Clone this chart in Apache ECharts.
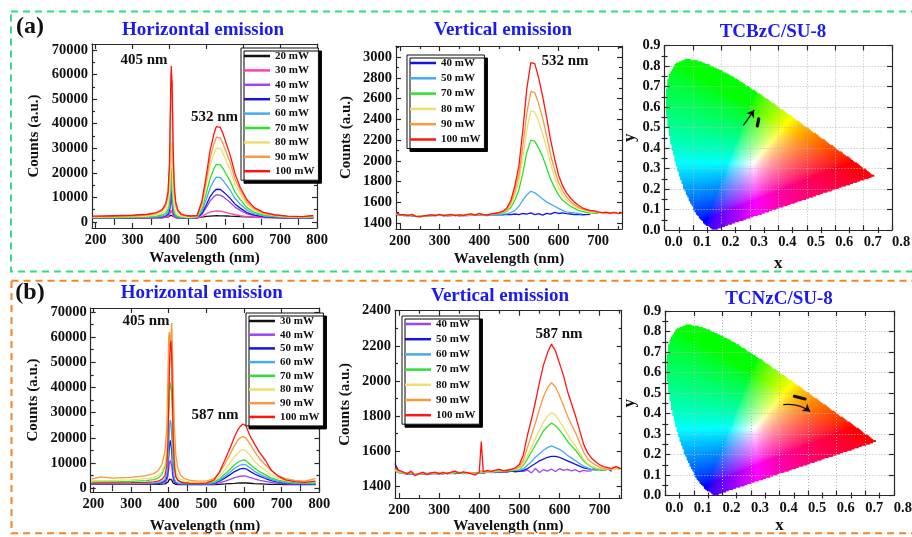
<!DOCTYPE html>
<html><head><meta charset="utf-8">
<script src="https://cdn.jsdelivr.net/npm/echarts@6/dist/echarts.min.js"></script>
<style>html,body{margin:0;padding:0;background:#fff}#c{width:912px;height:537px}</style>
</head><body><div id="c"></div>
<script>
// ================= DATA =================
// Tick label values
const wlTicks = [200, 300, 400, 500, 600, 700, 800];
const wlMinor = [250, 350, 450, 550, 650, 750];
const cnt70kTicks = [0, 10000, 20000, 30000, 40000, 50000, 60000, 70000];
const cnt70kMinor = [5000, 15000, 25000, 35000, 45000, 55000, 65000];
const cntA2Ticks = [1400, 1600, 1800, 2000, 2200, 2400, 2600, 2800, 3000];
const cntA2Minor = [1500, 1700, 1900, 2100, 2300, 2500, 2700, 2900, 3100];
const cntB2Ticks = [1400, 1600, 1800, 2000, 2200, 2400];
const cntB2Minor = [1500, 1700, 1900, 2100, 2300];
const cieXTicks = [0, 0.1, 0.2, 0.3, 0.4, 0.5, 0.6, 0.7, 0.8];
const cieXMinor = [0.05, 0.15, 0.25, 0.35, 0.45, 0.55, 0.65, 0.75];
const cieYTicks = [0, 0.1, 0.2, 0.3, 0.4, 0.5, 0.6, 0.7, 0.8, 0.9];
const cieYMinor = [0.05, 0.15, 0.25, 0.35, 0.45, 0.55, 0.65, 0.75, 0.85];

// (a) Horizontal emission, TCBzC
const wlA1 = [192,220,250,300,340,365,380,390,396,400, 402,404,405,406,407,408,410,413,417,423, 432,445,460,475,488,500,510,520,527,532, 538,545,555,565,578,592,610,630,655,685, 720,760,790];
const a1_20 = [1700,1700,1700,1700,1700,1720,1750,1850,1950,2200, 2600,3000,3200,3100,2800,2400,2000,1800,1750,1700, 1700,1700,1700,1750,1950,2200,2350,2450,2500,2500, 2480,2450,2400,2300,2200,2100,2000,1900,1820,1780, 1750,1720,1700];
const a1_30 = [1500,1500,1500,1520,1540,1560,1600,1800,2000,2600, 3500,4800,5200,5000,4200,3300,2400,1900,1650,1550, 1500,1500,1500,1550,2100,3300,4000,4300,4500,4500, 4400,4200,3800,3400,2900,2500,2100,1850,1700,1600, 1550,1500,1500];
const a1_40 = [1500,1500,1520,1550,1600,1680,1800,2100,2600,3800, 6000,8500,9500,9000,7500,5500,3500,2300,1800,1600, 1550,1500,1500,1650,3000,5900,8500,10200,11000,11200, 10900,10300,9100,7900,6000,4700,3300,2500,2000,1750, 1580,1520,1550];
const a1_50 = [1550,1560,1580,1620,1700,1820,2000,2500,3200,5000, 8000,11500,13000,12000,10000,7500,4500,2800,2100,1800, 1650,1550,1550,1750,3450,7000,10200,12300,13300,13500, 13200,12400,11000,9500,7200,5600,3800,2800,2150,1850, 1650,1580,1600];
const a1_60 = [1600,1620,1650,1700,1800,1950,2200,2800,3800,6000, 10000,15000,17000,16000,13000,9500,5500,3200,2300,1900, 1700,1600,1600,1850,4300,9200,13700,16700,18200,18500, 18000,16900,14900,12800,9500,7200,4800,3300,2400,2000, 1750,1650,1700];
const a1_70 = [1700,1720,1760,1850,2000,2300,2800,3500,5000,8000, 13000,19000,22000,21000,18000,13000,7500,4000,2800,2200, 1900,1750,1700,2000,5200,11700,17600,21500,23400,23800, 23200,21800,19100,16400,12000,9100,5800,3900,2800,2200, 1900,1750,1900];
const a1_80 = [1800,1900,2000,2100,2400,2800,3500,4500,6500,11000, 18000,28000,32000,30000,26000,19000,11000,6000,3800,2800, 2200,1900,1800,2200,6400,14900,22600,27600,30100,30700, 29900,28000,24500,21000,15300,11400,7200,4700,3300,2500, 2000,1900,2100];
const a1_90 = [2000,2100,2200,2400,2800,3400,4500,6500,10000,20000, 35000,52000,58000,60500,57000,45000,25000,12000,6500,4000, 2800,2300,2200,2400,7500,16900,25800,31500,34500,35000, 34200,32000,28000,24000,17300,12900,8100,5300,3600,2700, 2200,2000,2400];
const a1_100 = [2300,2400,2500,2700,3100,3800,5000,7500,12000,24000, 42000,60000,63500,58000,57000,50000,30000,15000,8000,4800, 3200,2600,2400,2600,8500,19000,29000,35500,38800,39500, 38500,36000,31500,27000,19500,14000,9000,5800,3900,2900, 2300,2100,2600];

// (a) Vertical emission, TCBzC
const wlA2 = [190,200,210,220,230,240,250,260,270,280,290,300,310,320,330,340,350,360,370,380,390,400,410,420,430,440,450,460,470,480,490,500,510,520,530,540,550,560,570,580,590,600,610,620,630,640,650,660,670,680,690,700,710,720,730,740,750,760];
const a2_40 = [1480,1476,1470,1472,1468,1470,1466,1470,1468,1472, 1470,1474,1470,1472,1470,1474,1468,1472,1470,1474, 1472,1476,1474,1470,1478,1476,1480,1478,1482,1480, 1485,1478,1490,1484,1495,1480,1488,1475,1492,1484, 1500,1490,1496,1488,1485,1480,1482,1478,1480,1482, null,null,null,null,null,null,null,null];
const a2_50 = [1484,1476,1472,1470,1474,1470,1466,1468,1472,1470, 1474,1472,1476,1468,1472,1476,1470,1472,1474,1476, 1472,1478,1476,1474,1480,1482,1480,1484,1486,1500, 1520,1560,1620,1670,1705,1690,1660,1630,1600,1580, 1560,1540,1520,1505,1500,1495,1490,1485,null,null, null,null,null,null,null,null,null,null];
const a2_70 = [1486,1478,1474,1476,1470,1466,1462,1470,1470,1474, 1478,1476,1474,1470,1476,1474,1472,1474,1478,1480, 1476,1484,1480,1478,1484,1486,1492,1495,1510,1550, 1620,1720,1880,2080,2200,2190,2120,2040,1930,1820, 1740,1670,1620,1590,1560,1540,1520,1510,1500,1495, 1492,1488,null,null,null,null,null,null];
const a2_80 = [1490,1482,1476,1472,1478,1468,1464,1468,1474,1478, 1476,1480,1470,1474,1478,1472,1476,1470,1480,1478, 1482,1480,1478,1484,1480,1488,1496,1500,1520,1575, 1670,1800,2030,2300,2480,2470,2380,2260,2120,1970, 1840,1740,1670,1620,1590,1560,1540,1525,1515,1505, 1500,1498,1494,1490,null,null,null,null];
const a2_90 = [1488,1476,1482,1468,1475,1465,1460,1470,1468,1480, 1474,1478,1472,1470,1484,1466,1480,1472,1476,1482, 1478,1486,1476,1480,1482,1494,1500,1506,1530,1595, 1710,1865,2140,2460,2670,2660,2550,2410,2240,2060, 1910,1790,1710,1650,1610,1575,1550,1535,1520,1512, 1505,1500,1495,1498,1490,1497,1492,null];
const a2_100 = [1495,1480,1478,1470,1482,1462,1458,1466,1472,1476, 1470,1482,1468,1476,1480,1470,1477,1469,1481,1486, 1474,1492,1480,1476,1487,1490,1498,1512,1545,1620, 1760,1950,2300,2700,2950,2940,2800,2620,2420,2200, 2020,1860,1760,1690,1640,1600,1570,1545,1530,1520, 1515,1505,1498,1502,1494,1500,1490,1495];

// (b) Horizontal emission, TCNzC
const wlB1 = [195,220,250,300,340,360,372,382,390,395, 398,400,402,404,406,408,410,412,415,419, 425,432,442,455,475,500,520,535,550,563, 575,583,590,597,605,615,628,642,657,672, 690,710,735,760,790];
const b1_30 = [1500,1500,1500,1500,1520,1540,1560,1600,1700,1900, 2400,3000,3600,3900,3800,3300,2600,2000,1700,1550, 1450,1420,1400,1400,1400,1400,1450,1550,1700,1850, 1950,2020,2070,2100,2080,1980,1850,1750,1650,1560, 1500,1450,1420,1400,1400];
const b1_40 = [1600,1600,1600,1650,1700,1750,1800,1900,2200,3000, 4800,7500,10000,11000,10800,8800,5800,3500,2300,1800, 1600,1550,1500,1500,1500,1500,1650,2150,2850,3550, 4200,4550,4750,4900,4800,4300,3700,3150,2700,2300, 1950,1700,1580,1530,1500];
const b1_50 = [1700,1700,1700,1750,1800,1850,1950,2300,2900,4200, 7500,12500,17000,19000,18500,15000,9500,5200,3000,2100, 1800,1700,1650,1600,1600,1600,1900,2800,4100,5400, 6600,7200,7650,7900,7700,6800,5650,4700,3850,3050, 2400,2000,1750,1650,1600];
const b1_60 = [1800,1800,1800,1850,1900,2000,2200,2600,3500,5500, 10000,17000,24000,27000,26000,21000,13000,7000,3800,2500, 2000,1850,1750,1700,1700,1700,2100,3200,4800,6400, 7900,8600,9200,9500,9300,8200,6700,5500,4500,3500, 2700,2200,1900,1800,1750];
const b1_70 = [2500,2500,2550,2700,3000,3400,4000,5500,8500,12500, 20000,30000,38000,42000,42000,38000,28000,17000,8500,4500, 3200,2600,2300,2100,2000,2000,2450,3750,5700,7500, 9300,10200,10800,11200,10900,9600,7900,6500,5300,4100, 3200,2600,2250,2100,2100];
const b1_80 = [3000,3000,3100,3300,3800,4300,5000,6500,9500,15000, 25000,38000,48000,52000,53000,50000,40000,27000,14000,7000, 4500,3500,2900,2600,2400,2300,2950,4800,7500,10100, 12600,13900,14800,15300,14900,13100,10600,8700,7000,5300, 4000,3150,2650,2450,2600];
const b1_90 = [3600,4500,4000,4300,5000,5800,7000,9500,14500,24000, 45000,60000,62000,56000,60000,65500,55000,40000,25000,13000, 7500,5000,3800,3200,2800,2800,3800,6200,9800,13500, 17000,19000,20000,20500,20000,17800,14500,11500,9200,7000, 5000,3800,3100,2800,3800];
const b1_100 = [2000,2100,2100,2200,2300,2500,2800,3500,5000,9000, 18000,32000,48000,57000,58500,52000,36000,20000,9000,4500, 3000,2400,2100,1900,1800,2000,3200,6500,11500,16000, 20500,23000,24500,25500,24800,21000,17500,14000,11000,7200, 4800,3300,2600,2300,2800];

// (b) Vertical emission, TCNzC
const wlB2 = [190,200,210,220,230,240,250,260,270,280,290,300,310,320,330,340,350,360,370,380,390,400,405,410,420,430,440,450,460,470,480,490,500,510,520,530,540,550,560,570,580,590,600,610,620,630,640,650,660,670,680,690,700,710,720,730,740,750];
const b2_40 = [1486,1478,1476,1472,1474,1472,1470,1474,1472,1470, 1474,1472,1476,1474,1472,1478,1474,1476,1472,1476, 1474,1478,1480,1476,1482,1480,1478,1484,1482,1480, 1486,1482,1488,1484,1492,1476,1502,1478,1494,1486, 1498,1484,1500,1490,1496,1488,1494,1482,1490,1486, 1488,null,null,null,null,null,null,null];
const b2_50 = [1530,1480,1474,1470,1472,1470,1468,1472,1470,1474, 1472,1474,1470,1476,1474,1472,1476,1472,1478,1474, 1472,1476,1478,1474,1480,1478,1482,1480,1482,1484, 1486,1484,1485,1490,1500,1515,1530,1545,1555,1565, 1570,1570,1565,1555,1545,1535,1525,1515,1505,1500, 1495,1500,1495,1490,1500,1485,null,null];
const b2_60 = [1488,1476,1472,1478,1470,1472,1468,1470,1474,1472, 1476,1470,1476,1472,1474,1476,1480,1474,1476,1472, 1476,1478,1480,1478,1480,1482,1480,1484,1484,1486, 1488,1490,1490,1500,1520,1540,1565,1585,1605,1620, 1630,1620,1610,1595,1575,1560,1545,1530,1515,1505, 1495,1490,1494,null,null,null,null,null];
const b2_70 = [1490,1478,1474,1476,1476,1468,1466,1472,1470,1476, 1474,1476,1474,1476,1472,1478,1476,1478,1474,1478, 1474,1476,1480,1476,1482,1484,1484,1486,1486,1488, 1490,1494,1495,1520,1555,1595,1635,1675,1715,1740, 1760,1745,1720,1690,1655,1630,1605,1575,1545,1525, 1510,1500,1495,1490,1498,null,null,null];
const b2_80 = [1494,1480,1476,1474,1478,1470,1468,1476,1472,1474, 1478,1472,1476,1474,1474,1480,1478,1476,1476,1474, 1472,1478,1484,1478,1484,1480,1486,1488,1488,1490, 1494,1496,1500,1530,1575,1620,1670,1720,1765,1800, 1820,1805,1770,1735,1695,1660,1630,1590,1555,1530, 1515,1505,1500,1496,1500,1494,1498,1492];
const b2_90 = [1498,1484,1478,1476,1480,1466,1470,1474,1470,1478, 1476,1474,1480,1470,1478,1482,1476,1480,1474,1476, 1470,1482,1490,1480,1486,1482,1488,1492,1490,1494, 1498,1500,1510,1550,1620,1690,1760,1840,1910,1960, 1990,1965,1915,1860,1800,1750,1705,1650,1595,1555, 1535,1520,1508,1502,1495,1500,1508,1498];
const b2_100 = [1505,1490,1482,1470,1486,1460,1472,1480,1466,1476, 1480,1470,1478,1472,1480,1486,1474,1482,1478,1470, 1464,1480,1655,1482,1490,1485,1492,1496,1488,1490, 1496,1505,1524,1580,1690,1780,1880,1990,2090,2160, 2210,2170,2100,2030,1940,1870,1800,1720,1640,1590, 1560,1540,1522,1512,1506,1500,1512,1505];

// CIE 1931 spectral locus (x, y)
const cieLocus = [[0.1741,0.0050],[0.1738,0.0049],[0.1733,0.0048],[0.1726,0.0048],[0.1714,0.0051],[0.1689,0.0069],[0.1644,0.0109],[0.1566,0.0177],[0.1440,0.0297],[0.1241,0.0578],[0.1096,0.0868],[0.0913,0.1327],[0.0687,0.2007],[0.0454,0.2950],[0.0235,0.4127],[0.0082,0.5384],[0.0039,0.6548],[0.0139,0.7502],[0.0389,0.8120],[0.0743,0.8338],[0.1142,0.8262],[0.1547,0.8059],[0.1929,0.7816],[0.2296,0.7543],[0.2658,0.7243],[0.3016,0.6923],[0.3373,0.6589],[0.3731,0.6245],[0.4087,0.5896],[0.4441,0.5547],[0.4788,0.5202],[0.5125,0.4866],[0.5448,0.4544],[0.5752,0.4242],[0.6029,0.3965],[0.6270,0.3725],[0.6482,0.3514],[0.6658,0.3340],[0.6801,0.3197],[0.6915,0.3083],[0.7006,0.2993],[0.7079,0.2920],[0.7140,0.2859],[0.7190,0.2809],[0.7230,0.2770],[0.7260,0.2740],[0.7283,0.2717],[0.7300,0.2700],[0.7347,0.2653]];
// CIE coordinates of the emission (arrows / clusters)
const cieA_arrow = [[0.277,0.510],[0.315,0.585]];
const cieA_pts = [[0.326,0.508],[0.331,0.542]];
const cieB_pts = [[0.452,0.484],[0.489,0.471]];
const cieB_arrow = [[0.413,0.443],[0.507,0.410]];

// ================= STYLE / BUILD =================
const FONT = '"Liberation Serif","Times New Roman",serif';
const AX = '#2a2a2a';
const BLUE_T = '#1b1bf0';
const C = {k:'#111111', pink:'#ff40a8', purple:'#9d45f2', blue:'#1616d6', lblue:'#45aaf2', green:'#2de02d', yellow:'#eedd70', orange:'#f8993c', red:'#ff1414'};

const grids = [], xAxes = [], yAxes = [], series = [], legends = [];
const plainFmt = function (v) { return String(v); };

function addPanel(p) {
  const gi = grids.length;
  grids.push(Object.assign({show:false, containLabel:false, outerBoundsMode:'none'}, p.grid));
  const ls = {color:AX, width:1.2};
  const lab = {fontFamily:FONT, fontWeight:'bold', fontSize:14.5, color:'#111'};
  const nm = {fontFamily:FONT, fontWeight:'bold', fontSize:p.nameSize || 15, color:'#111'};
  const z = p.z || 0;
  const fmt = p.fmt || plainFmt;
  function ax(min, max, pos, o) {
    const a = {type:'value', gridIndex:gi, min:min, max:max, position:pos, z:z, silent:true,
      axisLine:{show:true, onZero:false, lineStyle:ls}, axisTick:{show:false}, axisLabel:{show:false},
      splitLine:{show:false}, minorTick:{show:false}};
    return Object.assign(a, o);
  }
  const split = p.gridLines ? {show:true, lineStyle:{color:'#b8b8b8', type:[1,2], width:1}} : {show:false};
  const xi = xAxes.length, yi = yAxes.length;
  const xp = {axisTick:{show:true, inside:true, length:5, lineStyle:ls, customValues:p.xMaj},
      axisLabel:Object.assign({show:true, customValues:p.xMaj, margin:5, formatter:fmt}, lab, p.xAlign ? {align:p.xAlign} : {}),
      name:p.xName, nameLocation:'middle', nameGap:p.xGap, nameTextStyle:nm, splitLine:split};
  if (p.interval) xp.interval = p.interval;
  xAxes.push(ax(p.x[0], p.x[1], 'bottom', xp));
  xAxes.push(ax(p.x[0], p.x[1], 'top', {axisTick:{show:true, inside:true, length:5, lineStyle:ls, customValues:p.xMaj}}));
  xAxes.push(ax(p.x[0], p.x[1], 'bottom', {axisLine:{show:false}, axisTick:{show:true, inside:true, length:3, lineStyle:ls, customValues:p.xMin}}));
  xAxes.push(ax(p.x[0], p.x[1], 'top', {axisLine:{show:false}, axisTick:{show:true, inside:true, length:3, lineStyle:ls, customValues:p.xMin}}));
  const yp = {axisTick:{show:true, inside:true, length:5, lineStyle:ls, customValues:p.yMaj},
      axisLabel:Object.assign({show:true, customValues:p.yMaj, margin:4, formatter:fmt}, lab),
      name:p.yName, nameLocation:'middle', nameGap:p.yGap, nameTextStyle:nm, splitLine:split};
  if (p.interval) yp.interval = p.interval;
  yAxes.push(ax(p.y[0], p.y[1], 'left', yp));
  yAxes.push(ax(p.y[0], p.y[1], 'right', {axisTick:{show:true, inside:true, length:5, lineStyle:ls, customValues:p.yMaj}}));
  yAxes.push(ax(p.y[0], p.y[1], 'left', {axisLine:{show:false}, axisTick:{show:true, inside:true, length:3, lineStyle:ls, customValues:p.yMin}}));
  yAxes.push(ax(p.y[0], p.y[1], 'right', {axisLine:{show:false}, axisTick:{show:true, inside:true, length:3, lineStyle:ls, customValues:p.yMin}}));
  return {xi:xi, yi:yi};
}

function addSpectra(ax, wl, list) {
  list.forEach(function (s) {
    series.push({type:'line', name:s[0], xAxisIndex:ax.xi, yAxisIndex:ax.yi, symbol:'none', showSymbol:false,
      silent:true, data:wl.map(function (w, i) { return [w, s[2][i]]; }),
      lineStyle:{color:s[1], width:1.3}, itemStyle:{color:s[1]}});
  });
}

function addLegend(pos, list, gap) {
  legends.push(Object.assign({orient:'vertical', selectedMode:false, icon:'rect', itemWidth:26, itemHeight:2.5,
    itemGap:gap, padding:[2,4,3,3], backgroundColor:'#fff', borderColor:'#111', borderWidth:1,
    shadowColor:'#000', shadowBlur:0, shadowOffsetX:3, shadowOffsetY:3,
    textStyle:{fontFamily:FONT, fontWeight:'bold', fontSize:11, color:'#111', lineHeight:12},
    data:list.map(function (s) { return {name:s[0], itemStyle:{color:s[1]}}; })}, pos));
}

const spX = {xName:'Wavelength (nm)', yName:'Counts (a.u.)'};

// Panel a1
const pA1 = addPanel(Object.assign({grid:{left:92, top:44, width:225, height:184}, x:[190,800], y:[-2500,72500],
  xMaj:wlTicks, xMin:wlMinor, yMaj:cnt70kTicks, yMin:cnt70kMinor, xGap:23, yGap:50}, spX));
const sA1 = [['20 mW',C.k,a1_20],['30 mW',C.pink,a1_30],['40 mW',C.purple,a1_40],['50 mW',C.blue,a1_50],['60 mW',C.lblue,a1_60],['70 mW',C.green,a1_70],['80 mW',C.yellow,a1_80],['90 mW',C.orange,a1_90],['100 mW',C.red,a1_100]];
addSpectra(pA1, wlA1, sA1);
addLegend({left:241, top:48}, sA1, 2.4);

// Panel a2
const pA2 = addPanel(Object.assign({grid:{left:396, top:46, width:226, height:183}, x:[190,760], y:[1340,3110],
  xMaj:wlTicks, xMin:wlMinor, yMaj:cntA2Ticks, yMin:cntA2Minor, xGap:23, yGap:42}, spX));
const sA2 = [['40 mW',C.blue,a2_40],['50 mW',C.lblue,a2_50],['70 mW',C.green,a2_70],['80 mW',C.yellow,a2_80],['90 mW',C.orange,a2_90],['100 mW',C.red,a2_100]];
addSpectra(pA2, wlA2, sA2);
addLegend({left:407, top:55}, sA2, 3.3);

// Panel b1
const pB1 = addPanel(Object.assign({grid:{left:90.7, top:308, width:228.7, height:184}, x:[193,800], y:[-1500,71500],
  xMaj:wlTicks, xMin:wlMinor, yMaj:cnt70kTicks, yMin:cnt70kMinor, xGap:27, yGap:50}, spX));
const sB1 = [['30 mW',C.k,b1_30],['40 mW',C.purple,b1_40],['50 mW',C.blue,b1_50],['60 mW',C.lblue,b1_60],['70 mW',C.green,b1_70],['80 mW',C.yellow,b1_80],['90 mW',C.orange,b1_90],['100 mW',C.red,b1_100]];
addSpectra(pB1, wlB1, sB1);
addLegend({left:246, top:313}, sB1, 1.7);

// Panel b2
const pB2 = addPanel(Object.assign({grid:{left:395, top:310.7, width:226.7, height:187.3}, x:[190,755], y:[1333,2400],
  xMaj:wlTicks, xMin:wlMinor, yMaj:cntB2Ticks, yMin:cntB2Minor, xGap:21, yGap:42}, spX));
const sB2 = [['40 mW',C.purple,b2_40],['50 mW',C.blue,b2_50],['60 mW',C.lblue,b2_60],['70 mW',C.green,b2_70],['80 mW',C.yellow,b2_80],['90 mW',C.orange,b2_90],['100 mW',C.red,b2_100]];
addSpectra(pB2, wlB2, sB2);
addLegend({left:402, top:316}, sB2, 3.2);

// CIE helpers
function inLocus(x, y) {
  let inside = false;
  for (let i = 0, j = cieLocus.length - 1; i < cieLocus.length; j = i++) {
    const xi = cieLocus[i][0], yi = cieLocus[i][1], xj = cieLocus[j][0], yj = cieLocus[j][1];
    if (((yi > y) !== (yj > y)) && (x < (xj - xi) * (y - yi) / (yj - yi) + xi)) inside = !inside;
  }
  return inside;
}
function xyColor(x, y) {
  const X = x / y, Y = 1, Z = (1 - x - y) / y;
  let r = 3.2406 * X - 1.5372 * Y - 0.4986 * Z;
  let g = -0.9689 * X + 1.8758 * Y + 0.0415 * Z;
  let b = 0.0557 * X - 0.2040 * Y + 1.0570 * Z;
  r = Math.max(r, 0); g = Math.max(g, 0); b = Math.max(b, 0);
  const m = Math.max(r, g, b) || 1;
  const gam = function (c) { return Math.pow(c / m, 1 / 1.6); };
  return 'rgb(' + Math.round(gam(r) * 255) + ',' + Math.round(gam(g) * 255) + ',' + Math.round(gam(b) * 255) + ')';
}
function cieFill(params, api) {
  const kids = [];
  const dx = 0.005, dy = 0.006;
  for (let gx = 0; gx < 0.74; gx += dx) {
    for (let gy = 0; gy < 0.84; gy += dy) {
      const cx = gx + dx / 2, cy = gy + dy / 2;
      if (!inLocus(cx, cy)) continue;
      const a = api.coord([gx, gy + dy]), b = api.coord([gx + dx, gy]);
      kids.push({type:'rect', silent:true, shape:{x:a[0], y:a[1], width:b[0] - a[0] + 0.7, height:b[1] - a[1] + 0.7}, style:{fill:xyColor(cx, cy)}});
    }
  }
  return {type:'group', children:kids};
}
const cieFmt = function (v) { return v.toFixed(1); };
function addCIE(grid, marks, arrowCurve) {
  const ax = addPanel({grid:grid, x:[0,0.8], y:[0,0.9], interval:0.1, xMaj:cieXTicks, xMin:cieXMinor, yMaj:cieYTicks, yMin:cieYMinor,
    xName:'x', yName:'y', xGap:marks.xGap, yGap:marks.yGap, nameSize:17, xAlign:'left', fmt:cieFmt, gridLines:true, z:10});
  series.push({type:'custom', xAxisIndex:ax.xi, yAxisIndex:ax.yi, data:[[0.3,0.3]], renderItem:cieFill, silent:true, z:1});
  series.push({type:'lines', coordinateSystem:'cartesian2d', xAxisIndex:ax.xi, yAxisIndex:ax.yi, silent:true, z:12,
    symbol:['none','arrow'], symbolSize:7, lineStyle:{color:'#111', width:1.3, opacity:1, curveness:arrowCurve},
    data:[{coords:marks.arrow}]});
  series.push({type:'lines', coordinateSystem:'cartesian2d', xAxisIndex:ax.xi, yAxisIndex:ax.yi, silent:true, z:12,
    symbol:['none','none'], lineStyle:{color:'#111', width:3.2, opacity:1, cap:'round'},
    data:[{coords:marks.pts}]});
}
addCIE({left:664.6, top:45.5, width:227.5, height:184.6}, {arrow:cieA_arrow, pts:cieA_pts, xGap:25, yGap:26}, 0);
addCIE({left:665.3, top:311, width:228.5, height:184.5}, {arrow:cieB_arrow, pts:cieB_pts, xGap:22, yGap:27}, 0.2);

// Decorations and texts
function txt(x, y, s, size, color) {
  return {type:'text', x:x, y:y, silent:true, z:20, style:{text:s, font:'bold ' + size + 'px ' + FONT, fill:color, align:'center', verticalAlign:'middle'}};
}
const graphic = [
  {type:'rect', silent:true, z:0, shape:{x:11, y:11.5, width:915, height:260}, style:{fill:null, stroke:'#34dc86', lineWidth:2, lineDash:[7,5]}},
  {type:'rect', silent:true, z:0, shape:{x:11.5, y:280.7, width:915, height:252.6}, style:{fill:null, stroke:'#f5832c', lineWidth:2, lineDash:[7,5]}},
  txt(30, 27, '(a)', 24, '#111'),
  txt(30, 293, '(b)', 24, '#111'),
  txt(203, 30, 'Horizontal emission', 19, BLUE_T),
  txt(503, 30, 'Vertical emission', 19, BLUE_T),
  txt(773, 31.7, 'TCBzC/SU-8', 19, BLUE_T),
  txt(201.7, 293, 'Horizontal emission', 19, BLUE_T),
  txt(500, 296.3, 'Vertical emission', 19, BLUE_T),
  txt(779, 298.7, 'TCNzC/SU-8', 19, BLUE_T),
  txt(144, 60, '405 nm', 15, '#111'),
  txt(214.5, 116.7, '532 nm', 15, '#111'),
  txt(565, 61, '532 nm', 15, '#111'),
  txt(146, 321.3, '405 nm', 15, '#111'),
  txt(215, 414.7, '587 nm', 15, '#111'),
  txt(559, 334, '587 nm', 15, '#111')
];

const chart = echarts.init(document.getElementById('c'), null, {renderer:'canvas'});
chart.setOption({
  backgroundColor:'#ffffff',
  animation:false,
  grid:grids, xAxis:xAxes, yAxis:yAxes, legend:legends, series:series, graphic:graphic
});
</script></body></html>
